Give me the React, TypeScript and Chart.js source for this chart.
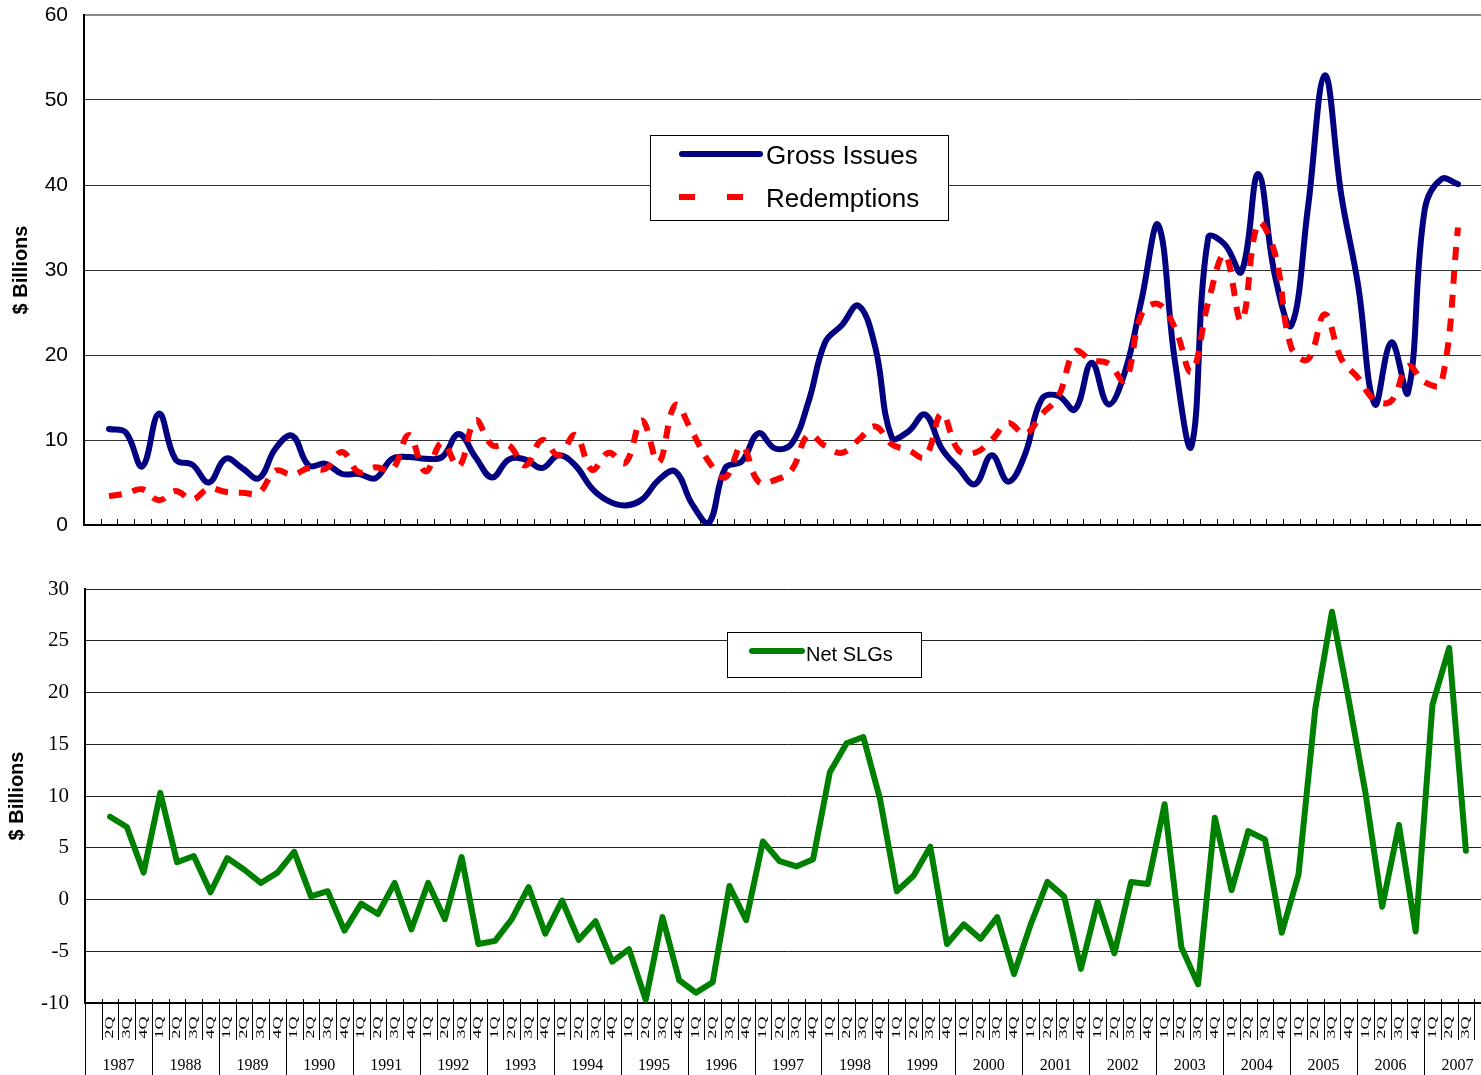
import React, { useEffect, useRef } from "react";
import { Chart, registerables } from "chart.js";

Chart.register(...registerables);

// ---------- data ----------
const years = [
  "1987", "1988", "1989", "1990", "1991", "1992", "1993", "1994", "1995", "1996", "1997",
  "1998", "1999", "2000", "2001", "2002", "2003", "2004", "2005", "2006", "2007",
];
const quarterNames = ["1Q", "2Q", "3Q", "4Q"];

// one category slot per quarter 1987..2007; data run from 1987 2Q to 2007 3Q
const categories: string[] = [];
years.forEach((y) => quarterNames.forEach((q) => categories.push(q + " " + y)));
const quarterTickLabels = categories.map((c, i) => (i >= 1 && i <= 82 ? c.split(" ")[0] : ""));

const grossIssues = [
  null,
  11.3, 10.9, 6.9, 13.1, 7.7, 7.1, 5.0, 7.8, 6.7, 5.5,
  9.0, 10.5, 7.0, 7.2, 6.0, 6.0, 5.5, 7.8, 8.0, 7.8,
  8.0, 10.7, 8.0, 5.6, 7.7, 7.7, 6.7, 8.2, 7.0, 4.3,
  2.8, 2.3, 3.0, 5.3, 6.3, 2.5, 0.2, 6.7, 7.5, 10.8,
  9.0, 9.6, 14.5, 21.5, 23.5, 25.8, 21.0, 10.3, 11.0, 13.0,
  9.0, 6.7, 4.8, 8.2, 5.1, 8.3, 14.8, 15.2, 13.6, 19.1,
  14.2, 18.0, 26.5, 35.3, 19.3, 9.3, 33.8, 33.0, 29.8, 41.3,
  29.4, 23.5, 37.5, 52.9, 38.7, 28.2, 14.2, 21.5, 15.6, 37.1,
  40.7, 40.1,
  null,
];

const redemptions = [
  null,
  3.4, 3.7, 4.2, 2.9, 4.0, 3.0, 4.3, 3.9, 3.8, 3.8,
  6.4, 5.9, 6.7, 6.6, 8.6, 6.2, 6.8, 6.5, 10.6, 6.3,
  9.7, 6.9, 12.3, 9.4, 9.4, 7.0, 10.0, 8.2, 10.6, 6.5,
  8.5, 7.3, 12.3, 7.4, 14.1, 11.0, 7.5, 5.6, 9.3, 5.1,
  5.3, 6.5, 10.6, 9.3, 8.5, 10.0, 11.6, 9.5, 8.8, 8.0,
  13.1, 8.8, 8.5, 10.0, 12.0, 10.7, 13.0, 15.1, 20.4, 19.4,
  19.0, 17.0, 24.8, 26.0, 23.2, 18.0, 26.2, 31.8, 24.0, 35.5,
  32.0, 20.8, 19.5, 24.8, 19.5, 17.3, 14.7, 14.6, 18.7, 16.8,
  16.6, 35.0,
  null,
];

const netSLGs = [
  null,
  8.0, 7.0, 2.6, 10.3, 3.6, 4.2, 0.7, 4.0, 2.9, 1.6,
  2.6, 4.6, 0.3, 0.8, -3.0, -0.4, -1.4, 1.6, -2.9, 1.6,
  -1.9, 4.1, -4.3, -4.0, -1.9, 1.2, -3.3, -0.1, -3.9, -2.1,
  -6.0, -4.8, -9.7, -1.7, -7.8, -9.0, -8.0, 1.3, -2.0, 5.6,
  3.7, 3.2, 3.9, 12.3, 15.1, 15.7, 9.7, 0.8, 2.3, 5.1,
  -4.3, -2.4, -3.8, -1.7, -7.2, -2.4, 1.7, 0.3, -6.7, -0.2,
  -5.2, 1.7, 1.5, 9.2, -4.6, -8.2, 7.9, 0.9, 6.6, 5.8,
  -3.2, 2.4, 18.4, 27.8, 19.3, 10.3, -0.7, 7.2, -3.1, 18.8,
  24.3, 4.7,
  null,
];

// ---------- fonts ----------
const SANS = "'Liberation Sans', Arial, Helvetica, sans-serif";
const SERIF = "'Liberation Serif', 'Times New Roman', Times, serif";

// ---------- plugins ----------
const legendBoxPlugin = {
  id: "legendBox",
  afterDatasetsDraw(chart: any, _args: any, opts: any) {
    if (!opts || !opts.box) return;
    const { ctx } = chart;
    const { box, rows, font, textX } = opts;
    ctx.save();
    ctx.fillStyle = "#ffffff";
    ctx.fillRect(box.x, box.y, box.w, box.h);
    ctx.strokeStyle = "#000000";
    ctx.lineWidth = 1;
    ctx.strokeRect(box.x + 0.5, box.y + 0.5, box.w, box.h);
    rows.forEach((row: any, i: number) => {
      const ds = chart.data.datasets[i];
      ctx.strokeStyle = ds.borderColor;
      ctx.lineWidth = ds.borderWidth;
      if (row.dash) {
        ctx.setLineDash(row.dash);
        ctx.lineCap = "butt";
      } else {
        ctx.setLineDash([]);
        ctx.lineCap = "round";
      }
      ctx.beginPath();
      ctx.moveTo(row.x0, row.y);
      ctx.lineTo(row.x1, row.y);
      ctx.stroke();
      ctx.setLineDash([]);
      ctx.fillStyle = "#000000";
      ctx.font = font;
      ctx.textAlign = "left";
      ctx.textBaseline = "middle";
      ctx.fillText(ds.label, textX, row.textY);
    });
    ctx.restore();
  },
};

const xDecorPlugin = {
  id: "xDecor",
  afterDraw(chart: any, _args: any, opts: any) {
    const { ctx, chartArea } = chart;
    const xs = chart.scales.x;
    const n = xs.getLabels().length;
    const bottom = chartArea.bottom;
    const boundary = (k: number) =>
      Math.round((xs.getPixelForValue(k - 1) + xs.getPixelForValue(k)) / 2) + 0.5;
    ctx.save();
    ctx.strokeStyle = "#000000";
    ctx.lineWidth = 1;
    if (opts.mode === "top") {
      for (let k = 1; k < n; k++) {
        const bx = boundary(k);
        ctx.beginPath();
        ctx.moveTo(bx, bottom - 6);
        ctx.lineTo(bx, bottom);
        ctx.stroke();
      }
    } else {
      const h = chart.height;
      ctx.beginPath();
      ctx.moveTo(Math.round(chartArea.left) + 0.5, bottom);
      ctx.lineTo(Math.round(chartArea.left) + 0.5, h);
      ctx.stroke();
      for (let k = 1; k < n; k++) {
        const bx = boundary(k);
        ctx.beginPath();
        ctx.moveTo(bx, bottom - 4);
        ctx.lineTo(bx, k % 4 === 0 ? h : bottom + 37);
        ctx.stroke();
      }
      // quarter labels (rotated, narrow)
      ctx.fillStyle = "#000000";
      ctx.font = "18px " + SERIF;
      ctx.textAlign = "center";
      ctx.textBaseline = "middle";
      for (let i = 0; i < n; i++) {
        const lab = quarterTickLabels[i];
        if (!lab) continue;
        const cx = xs.getPixelForValue(i);
        ctx.save();
        ctx.translate(cx, bottom + 24.5);
        ctx.rotate(-Math.PI / 2);
        ctx.scale(1, 0.66);
        ctx.fillText(lab, 0, 0);
        ctx.restore();
      }
      // year labels
      ctx.font = "16px " + SERIF;
      years.forEach((y, j) => {
        const c = (xs.getPixelForValue(4 * j) + xs.getPixelForValue(4 * j + 3)) / 2;
        ctx.fillText(y, c, bottom + 63);
      });
    }
    ctx.restore();
  },
};

const noLabelPadding = (s: any, w: number) => {
  s.width = w;
  s.paddingTop = 0;
  s.paddingBottom = 0;
};

// ---------- component ----------
export default function App() {
  const topRef = useRef<HTMLCanvasElement | null>(null);
  const botRef = useRef<HTMLCanvasElement | null>(null);

  useEffect(() => {
    const top = new Chart(topRef.current as HTMLCanvasElement, {
      type: "line",
      data: {
        labels: categories,
        datasets: [
          {
            label: "Gross Issues",
            data: grossIssues,
            borderColor: "#000080",
            backgroundColor: "#000080",
            borderWidth: 6,
            tension: 0.4,
            pointRadius: 0,
            fill: false,
            borderCapStyle: "round",
            borderJoinStyle: "round",
            order: 1,
          },
          {
            label: "Redemptions",
            data: redemptions,
            borderColor: "#ff0000",
            backgroundColor: "#ff0000",
            borderWidth: 6,
            borderDash: [13, 11],
            tension: 0.4,
            pointRadius: 0,
            fill: false,
            borderCapStyle: "butt",
            order: 0,
          },
        ],
      } as any,
      options: {
        responsive: false,
        animation: false,
        devicePixelRatio: 1,
        layout: { padding: { top: 15, right: 17, bottom: 20, left: 0 } },
        plugins: {
          legend: { display: false },
          tooltip: { enabled: false },
          legendBox: {
            box: { x: 650, y: 135, w: 298, h: 85 },
            font: "26px " + SANS,
            textX: 766,
            rows: [
              { x0: 682, x1: 760, y: 154, textY: 157 },
              { x0: 679, x1: 743, y: 197, textY: 200, dash: [16, 32] },
            ],
          },
          xDecor: { mode: "top" },
        } as any,
        scales: {
          x: {
            type: "category",
            offset: true,
            grid: { display: false },
            ticks: { display: false },
            border: { display: true, color: "#000000", width: 2 },
            afterFit: (s: any) => {
              s.height = 0;
              s.paddingLeft = 0;
              s.paddingRight = 0;
            },
          },
          y: {
            min: 0,
            max: 60,
            ticks: {
              stepSize: 10,
              color: "#000000",
              padding: 16,
              font: { family: SANS, size: 21 },
            },
            grid: {
              color: (c: any) => (c.tick && c.tick.value === 60 ? "#8a8a8a" : "#333333"),
              lineWidth: (c: any) => (c.tick && c.tick.value === 60 ? 2 : 1),
              drawTicks: false,
            },
            border: { display: true, color: "#000000", width: 2 },
            title: {
              display: true,
              text: "$ Billions",
              color: "#000000",
              font: { family: SANS, size: 20, weight: "bold" },
              padding: { top: 9, bottom: 0 },
            },
            afterFit: (s: any) => noLabelPadding(s, 84),
          },
        },
      } as any,
      plugins: [legendBoxPlugin, xDecorPlugin],
    });

    const bot = new Chart(botRef.current as HTMLCanvasElement, {
      type: "line",
      data: {
        labels: categories,
        datasets: [
          {
            label: "Net SLGs",
            data: netSLGs,
            borderColor: "#008000",
            backgroundColor: "#008000",
            borderWidth: 6,
            tension: 0,
            pointRadius: 0,
            fill: false,
            borderCapStyle: "round",
            borderJoinStyle: "round",
          },
        ],
      } as any,
      options: {
        responsive: false,
        animation: false,
        devicePixelRatio: 1,
        layout: { padding: { top: 29, right: 19, bottom: 0, left: 0 } },
        plugins: {
          legend: { display: false },
          tooltip: { enabled: false },
          legendBox: {
            box: { x: 727, y: 72, w: 194, h: 45 },
            font: "20px " + SANS,
            textX: 806,
            rows: [{ x0: 752, x1: 802, y: 91, textY: 95 }],
          },
          xDecor: { mode: "bottom" },
        } as any,
        scales: {
          x: {
            type: "category",
            offset: true,
            grid: { display: false },
            ticks: { display: false },
            border: { display: true, color: "#000000", width: 2 },
            afterFit: (s: any) => {
              s.height = 72;
              s.paddingLeft = 0;
              s.paddingRight = 0;
            },
          },
          y: {
            min: -10,
            max: 30,
            ticks: {
              stepSize: 5,
              color: "#000000",
              padding: 16,
              font: { family: SERIF, size: 21 },
            },
            grid: {
              color: "#222222",
              lineWidth: 1,
              drawTicks: false,
            },
            border: { display: true, color: "#000000", width: 2 },
            title: {
              display: true,
              text: "$ Billions",
              color: "#000000",
              font: { family: SANS, size: 20, weight: "bold" },
              padding: { top: 5, bottom: 0 },
            },
            afterFit: (s: any) => noLabelPadding(s, 85),
          },
        },
      } as any,
      plugins: [legendBoxPlugin, xDecorPlugin],
    });

    return () => {
      top.destroy();
      bot.destroy();
    };
  }, []);

  return (
    <div
      style={{
        position: "fixed",
        left: 0,
        top: 0,
        width: 1481,
        height: 1075,
        overflow: "hidden",
        background: "#ffffff",
      }}
    >
      <canvas
        ref={topRef}
        width={1500}
        height={545}
        style={{ position: "absolute", left: 0, top: 0, width: 1500, height: 545 }}
      />
      <canvas
        ref={botRef}
        width={1510}
        height={515}
        style={{ position: "absolute", left: 0, top: 560, width: 1510, height: 515 }}
      />
    </div>
  );
}
